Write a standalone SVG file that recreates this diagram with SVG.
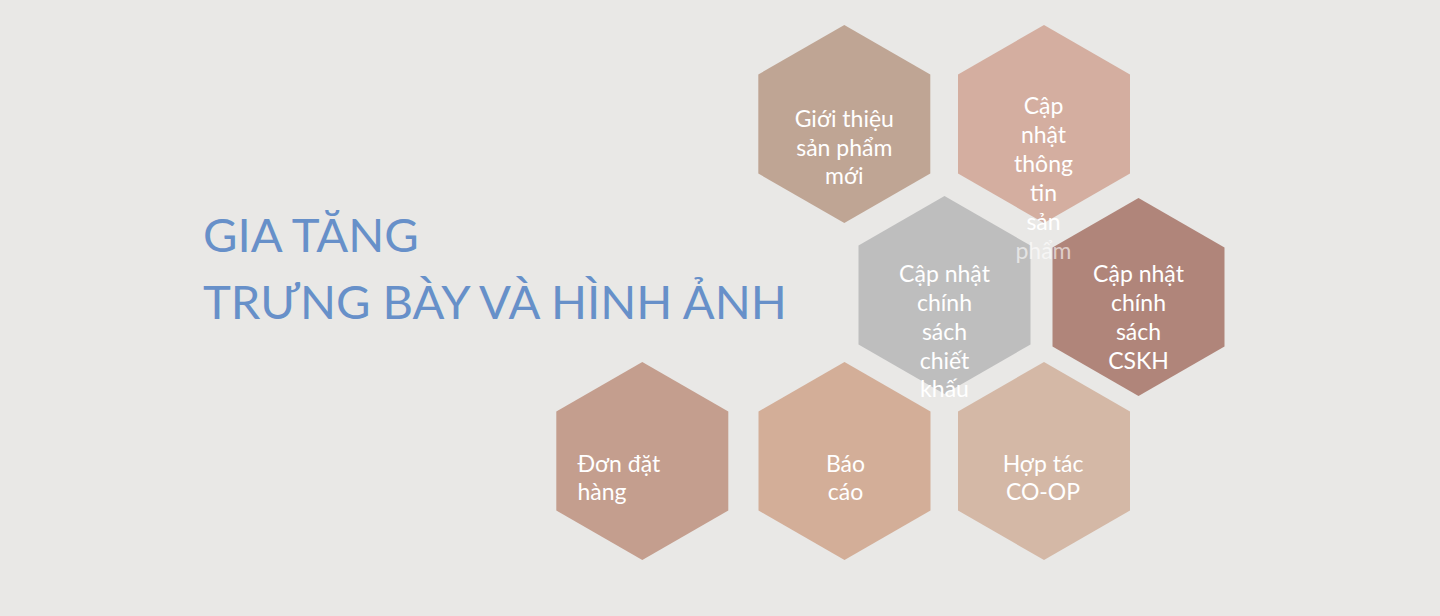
<svg xmlns="http://www.w3.org/2000/svg" width="1440" height="616" viewBox="0 0 1440 616">
<style>
.t{font-family:Lato,"Noto Sans",sans-serif;font-size:23px;fill:#ffffff;text-anchor:middle}
.tl{text-anchor:start}
.title{font-family:Lato,"Noto Sans",sans-serif;font-size:47.2px;fill:#6790c9}
</style>
<rect width="1440" height="616" fill="#e9e8e6"/>
<g id="title">
<text class="title" x="203" y="252">GIA TĂNG</text>
<text class="title" x="203" y="319">TRƯNG BÀY VÀ HÌNH ẢNH</text>
</g>
<g id="connectors"/>
<g id="node-gioi-thieu">
<polygon points="844.3,25 930.3,74.5 930.3,173.5 844.3,223 758.3,173.5 758.3,74.5" fill="#bfa594"/>
<text class="t" x="844.3" y="127">Giới thiệu</text>
<text class="t" x="844.3" y="156">sản phẩm</text>
<text class="t" x="844.3" y="184">mới</text>
</g>
<g id="node-chiet-khau">
<polygon points="944.5,196 1030.5,245.5 1030.5,344.5 944.5,394 858.5,344.5 858.5,245.5" fill="#bebebe"/>
<text class="t" x="944.5" y="282">Cập nhật</text>
<text class="t" x="944.5" y="311">chính</text>
<text class="t" x="944.5" y="340">sách</text>
<text class="t" x="944.5" y="369">chiết</text>
<text class="t" x="944.5" y="397">khấu</text>
</g>
<g id="node-cskh">
<polygon points="1138.5,198 1224.5,247.5 1224.5,346.5 1138.5,396 1052.5,346.5 1052.5,247.5" fill="#b0857a"/>
<text class="t" x="1138.5" y="282">Cập nhật</text>
<text class="t" x="1138.5" y="311">chính</text>
<text class="t" x="1138.5" y="340">sách</text>
<text class="t" x="1138.5" y="369">CSKH</text>
</g>
<g id="node-don-dat-hang">
<polygon points="642.3,362 728.3,411.5 728.3,510.5 642.3,560 556.3,510.5 556.3,411.5" fill="#c49e8e"/>
<text class="t tl" x="577.5" y="472">Đơn đặt</text>
<text class="t tl" x="577.5" y="500">hàng</text>
</g>
<g id="node-bao-cao">
<polygon points="844.5,362 930.5,411.5 930.5,510.5 844.5,560 758.5,510.5 758.5,411.5" fill="#d3ae98"/>
<text class="t" x="845.5" y="472">Báo</text>
<text class="t" x="845.5" y="500">cáo</text>
</g>
<g id="node-coop">
<polygon points="1044,362 1130,411.5 1130,510.5 1044,560 958,510.5 958,411.5" fill="#d4b8a6"/>
<text class="t" x="1043" y="472">Hợp tác</text>
<text class="t" x="1043" y="500">CO-OP</text>
</g>
<g id="node-thong-tin">
<polygon points="1044,25 1130,74.5 1130,173.5 1044,223 958,173.5 958,74.5" fill="#d4aea0"/>
<text class="t" x="1043.5" y="114">Cập</text>
<text class="t" x="1043.5" y="143">nhật</text>
<text class="t" x="1043.5" y="172">thông</text>
<text class="t" x="1043.5" y="201">tin</text>
<text class="t" x="1043.5" y="230">sản</text>
<text class="t" x="1043.5" y="259" fill-opacity="0.6">phẩm</text>
</g>
</svg>
